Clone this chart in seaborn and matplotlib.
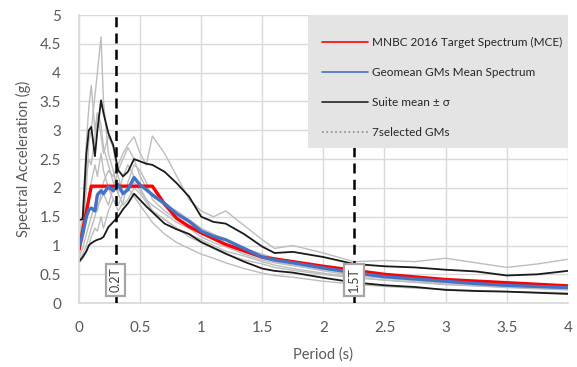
import numpy as np
import pandas as pd
import matplotlib
matplotlib.use("Agg")
import matplotlib.pyplot as plt
from matplotlib.lines import Line2D
from matplotlib.patches import Rectangle
from matplotlib.ticker import MultipleLocator, FuncFormatter
import seaborn as sns

# periods (s) used for the ground motions and the suite statistics
periods = [0, 0.03, 0.06, 0.08, 0.1, 0.13, 0.15, 0.18, 0.2, 0.24, 0.28, 0.32, 0.36,
           0.4, 0.45, 0.5, 0.55, 0.6, 0.7, 0.8, 0.9, 1.0, 1.1, 1.2, 1.35, 1.5, 1.6,
           1.75, 2.0, 2.25, 2.5, 2.75, 3.0, 3.25, 3.5, 3.75, 4.0]

gm1 = [0.85, 1.2, 2.0, 2.8, 3.0, 3.6, 4.0, 4.62, 3.5, 2.6, 2.3, 1.9, 1.7, 1.8, 2.0, 1.9,
       1.75, 1.6, 1.45, 1.3, 1.2, 1.1, 1.0, 0.9, 0.82, 0.72, 0.66, 0.6, 0.52, 0.45, 0.4,
       0.37, 0.33, 0.3, 0.28, 0.26, 0.25]
gm2 = [0.95, 1.6, 2.8, 3.4, 3.78, 3.0, 3.3, 2.9, 2.6, 2.9, 2.7, 2.2, 1.9, 2.0, 2.1, 1.95,
       1.8, 1.7, 1.55, 1.4, 1.3, 1.15, 1.05, 0.98, 0.85, 0.75, 0.7, 0.65, 0.58, 0.5, 0.44,
       0.4, 0.36, 0.33, 0.3, 0.28, 0.27]
gm3 = [0.8, 0.95, 1.2, 1.35, 1.5, 1.7, 1.6, 1.9, 2.1, 2.3, 2.2, 2.4, 2.6, 2.75, 2.89, 2.6,
       2.4, 2.9, 2.6, 2.2, 1.8, 1.6, 1.5, 1.6, 1.35, 1.1, 0.95, 1.0, 0.87, 0.72, 0.74,
       0.72, 0.78, 0.7, 0.62, 0.68, 0.76]
gm4 = [0.75, 0.85, 1.0, 1.15, 1.3, 1.5, 1.7, 1.8, 1.9, 1.7, 2.0, 2.3, 2.5, 2.7, 2.5, 2.2,
       2.0, 1.85, 1.7, 1.6, 1.45, 1.3, 1.2, 1.1, 0.95, 0.85, 0.78, 0.72, 0.62, 0.55, 0.47,
       0.42, 0.38, 0.35, 0.32, 0.3, 0.29]
gm5 = [0.7, 0.78, 0.9, 1.0, 1.15, 1.3, 1.25, 1.5, 1.3, 1.6, 1.8, 1.7, 1.9, 2.0, 1.85, 1.7,
       1.55, 1.4, 1.2, 1.05, 0.95, 0.85, 0.78, 0.7, 0.6, 0.52, 0.48, 0.45, 0.38, 0.33,
       0.29, 0.26, 0.24, 0.22, 0.2, 0.19, 0.18]
gm6 = [1.1, 1.5, 2.2, 2.5, 2.4, 2.9, 3.3, 3.1, 2.7, 2.4, 2.1, 1.9, 2.2, 2.4, 2.2, 2.0,
       1.8, 1.6, 1.45, 1.3, 1.15, 1.05, 0.95, 0.85, 0.75, 0.68, 0.62, 0.57, 0.5, 0.44,
       0.4, 0.36, 0.32, 0.3, 0.27, 0.25, 0.23]
gm7 = [0.9, 1.1, 1.5, 1.8, 2.1, 2.4, 2.2, 2.6, 2.3, 2.0, 1.8, 1.6, 1.75, 2.1, 2.4, 2.3,
       2.1, 1.8, 1.6, 1.45, 1.35, 1.25, 1.15, 1.0, 0.88, 0.78, 0.72, 0.66, 0.56, 0.48,
       0.43, 0.39, 0.35, 0.32, 0.29, 0.27, 0.25]

mean_plus = [1.44, 1.46, 2.6, 3.0, 3.06, 2.55, 3.0, 3.52, 3.3, 2.95, 2.74, 2.31, 2.2,
             2.28, 2.5, 2.46, 2.42, 2.4, 2.28, 2.08, 1.85, 1.5, 1.41, 1.38, 1.2, 0.98,
             0.87, 0.89, 0.8, 0.68, 0.64, 0.62, 0.58, 0.55, 0.48, 0.5, 0.56]
mean_minus = [0.72, 0.8, 0.9, 1.0, 1.04, 1.08, 1.1, 1.12, 1.15, 1.32, 1.41, 1.5, 1.63,
              1.73, 1.9, 1.79, 1.68, 1.58, 1.38, 1.28, 1.2, 1.06, 0.96, 0.86, 0.72, 0.6,
              0.56, 0.53, 0.44, 0.36, 0.31, 0.28, 0.23, 0.21, 0.2, 0.18, 0.16]

geomean = [1.0, 1.2, 1.5, 1.62, 1.65, 1.6, 1.88, 1.95, 1.9, 2.02, 1.95, 2.06, 1.9, 1.97,
           2.18, 2.05, 1.97, 1.88, 1.73, 1.55, 1.42, 1.25, 1.16, 1.1, 0.95, 0.8, 0.75,
           0.7, 0.61, 0.53, 0.46, 0.42, 0.38, 0.34, 0.31, 0.29, 0.27]

# design (target) spectrum
target_periods = [0, 0.1, 0.2, 0.5, 0.6, 0.7, 0.8, 0.9, 1.0, 1.2, 1.5, 2.0, 2.5, 3.0, 4.0]
target_sa = [0.93, 2.03, 2.03, 2.03, 2.03, 1.72, 1.47, 1.33, 1.22, 1.02, 0.8, 0.64, 0.5,
             0.41, 0.3]

T1 = 1.5
range_lines = [0.2 * T1, 1.5 * T1]
range_labels = ["0.2T", "1.5T"]

sns.set_theme(style="white")
plt.rcParams["font.family"] = ["Lato", "DejaVu Sans"]

fig = plt.figure(figsize=(5.77, 3.67), dpi=100)
ax = fig.add_axes([0.137, 0.174, 0.847, 0.785])

gms = pd.DataFrame({"Period": periods, "GM1": gm1, "GM2": gm2, "GM3": gm3, "GM4": gm4,
                    "GM5": gm5, "GM6": gm6, "GM7": gm7})
gm_long = gms.melt(id_vars="Period", var_name="GM", value_name="Sa")
sns.lineplot(data=gm_long, x="Period", y="Sa", units="GM", estimator=None,
             color="#bdbdbd", linewidth=1.0, ax=ax, legend=False)

sigma = pd.DataFrame({"Period": periods, "plus": mean_plus, "minus": mean_minus})
sigma_long = sigma.melt(id_vars="Period", var_name="side", value_name="Sa")
sns.lineplot(data=sigma_long, x="Period", y="Sa", units="side", estimator=None,
             color="#1a1a1a", linewidth=1.3, ax=ax, legend=False)

sns.lineplot(x=target_periods, y=target_sa, color="#ff0000", linewidth=2.4, ax=ax)
sns.lineplot(x=periods, y=geomean, color="#4472c4", linewidth=2.4, ax=ax)

for xv, lab in zip(range_lines, range_labels):
    ax.axvline(xv, color="black", linestyle=(0, (4, 2.5)), linewidth=1.8, zorder=4)
    ax.text(xv, 0.4, lab, rotation=90, ha="center", va="center", fontsize=9,
            color="#404040", zorder=6,
            bbox=dict(boxstyle="square,pad=0.3", facecolor="white",
                      edgecolor="#a6a6a6", linewidth=1.6))

ax.set_xlim(0, 4)
ax.set_ylim(0, 5)
ax.xaxis.set_major_locator(MultipleLocator(0.5))
ax.yaxis.set_major_locator(MultipleLocator(0.5))
fmt = FuncFormatter(lambda v, p: f"{v:g}")
ax.xaxis.set_major_formatter(fmt)
ax.yaxis.set_major_formatter(fmt)
ax.grid(True, color="#d9d9d9", linewidth=1.0)
ax.set_axisbelow(True)
for side in ["top", "right"]:
    ax.spines[side].set_visible(False)
for side in ["left", "bottom"]:
    ax.spines[side].set_color("#d9d9d9")
ax.tick_params(axis="y", length=0, labelsize=11, colors="#595959", pad=13)
ax.tick_params(axis="x", length=0, labelsize=11, colors="#595959", pad=13)
ax.set_xlabel("Period (s)", fontsize=10.5, color="#595959", labelpad=9)
ax.set_ylabel("Spectral Acceleration (g)", fontsize=10.5, color="#595959", labelpad=6)

# legend panel (grey box in the upper right of the plot area)
ax.add_patch(Rectangle((0.468, 0.538), 0.532, 0.462, transform=ax.transAxes,
                       facecolor="#e4e4e4", edgecolor="none", zorder=9))
handles = [Line2D([], [], color="#ff0000", linewidth=1.2),
           Line2D([], [], color="#4472c4", linewidth=1.2),
           Line2D([], [], color="#262626", linewidth=1.2),
           Line2D([], [], color="#8c8c8c", linewidth=1.2, linestyle=":")]
labels = ["MNBC 2016 Target Spectrum (MCE)", "Geomean GMs Mean Spectrum",
          "Suite mean ± σ", "7selected GMs"]
leg = ax.legend(handles, labels, loc="upper left", bbox_to_anchor=(0.497, 0.924),
                frameon=False, fontsize=8.5, handlelength=3.9, handletextpad=0.35,
                labelspacing=1.6, borderpad=0, borderaxespad=0)
for t in leg.get_texts():
    t.set_color("#262626")
leg.set_zorder(10)

fig.savefig("out.png", dpi=100)
